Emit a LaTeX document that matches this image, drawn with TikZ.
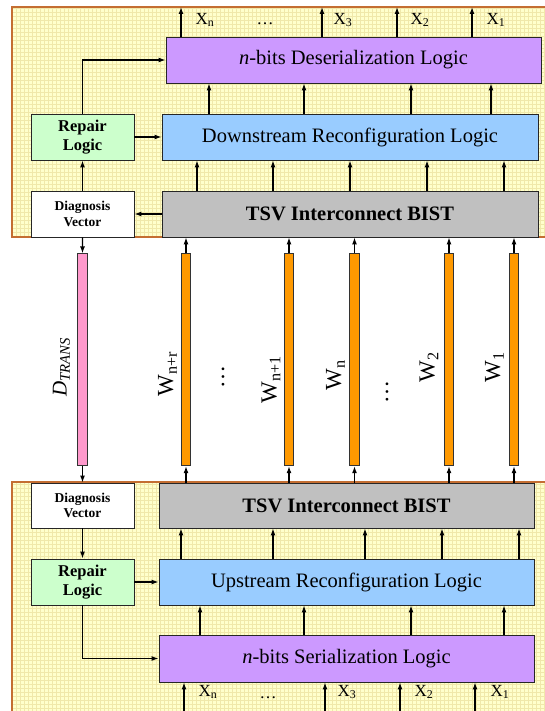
\documentclass[tikz,border=0pt]{standalone}
\usepackage{fontspec}
\setmainfont{Liberation Serif}
\usetikzlibrary{arrows.meta,shapes.geometric}
\definecolor{panelfill}{RGB}{255,255,204}
\definecolor{panelgrid}{RGB}{240,232,170}
\definecolor{panelline}{RGB}{196,110,50}
\definecolor{serfill}{RGB}{204,153,255}
\definecolor{reconfill}{RGB}{153,204,255}
\definecolor{bistfill}{RGB}{192,192,192}
\definecolor{repfill}{RGB}{204,255,204}
\definecolor{tsvfill}{RGB}{255,153,0}
\definecolor{dfill}{RGB}{255,153,204}
\begin{document}
\begin{tikzpicture}[x=1pt,y=-1pt,
  blk/.style={draw=black!85,line width=0.9pt,inner sep=0pt,minimum height=46pt},
  wide/.style={blk,minimum width=376pt,font={\fontsize{20.5}{24}\selectfont}},
  side/.style={blk,minimum width=103pt,align=center,fill=repfill,font={\bfseries\fontsize{16.5}{18.5}\selectfont}},
  diag/.style={blk,minimum width=103pt,align=center,fill=white,font={\bfseries\fontsize{13.5}{15.5}\selectfont}},
  tsv/.style={cylinder,shape border rotate=90,draw=black!80,line width=0.7pt,minimum width=9.5pt,minimum height=212pt,aspect=0.6,inner sep=0pt,fill=tsvfill},
  arr/.style={-{Latex[length=7pt,width=5pt]},line width=1.3pt},
  xlab/.style={font={\fontsize{17}{20}\selectfont}},
  wlab/.style={rotate=90,font={\fontsize{23}{26}\selectfont}}]
\useasboundingbox (0,0) rectangle (545,711);
\fill[panelfill] (12,7) rectangle (546,237);
\draw[panelgrid,step=4pt,line width=0.3pt] (12,7) grid (546,237);
\draw[panelline,line width=1.2pt] (12,7) rectangle (546,237);
\fill[panelfill] (12,482) rectangle (546,714);
\draw[panelgrid,step=4pt,line width=0.3pt] (12,482) grid (546,714);
\draw[panelline,line width=1.2pt] (12,482) rectangle (546,714);

\node[wide,fill=serfill,minimum width=375pt] (deser) at (353.5,60) {\textit{n}-bits Deserialization Logic};
\node[wide,fill=reconfill] (down) at (350,137) {Downstream Reconfiguration Logic};
\node[wide,fill=bistfill,font={\bfseries\fontsize{20.5}{24}\selectfont}] (tbist) at (350,214) {TSV Interconnect BIST};
\node[side] (trep) at (82.5,137) {Repair\\Logic};
\node[diag] (tdiag) at (82.5,214) {Diagnosis\\Vector};

\node[diag,minimum height=45pt] (bdiag) at (82.5,505.5) {Diagnosis\\Vector};
\node[wide,fill=bistfill,minimum width=375pt,minimum height=45pt,font={\bfseries\fontsize{20.5}{24}\selectfont}] (bbist) at (346.5,505.5) {TSV Interconnect BIST};
\node[side] (brep) at (82.5,582) {Repair\\Logic};
\node[wide,fill=reconfill,minimum width=375pt] (up) at (346.5,582) {Upstream Reconfiguration Logic};
\node[wide,fill=serfill,minimum width=375pt,minimum height=47pt] (ser) at (346.5,658.5) {\textit{n}-bits Serialization Logic};

\node[tsv,fill=dfill] (dt) at (82.5,360) {};
\node[tsv] (wnr) at (186,360) {};
\node[tsv] (wn1) at (289,360) {};
\node[tsv] (wn) at (354.5,360) {};
\node[tsv] (w2) at (449,360) {};
\node[tsv] (w1) at (514,360) {};

\node[rotate=90,font={\fontsize{21}{24}\selectfont}] (ldt) at (61.5,367) {\textit{D}\textsubscript{\textit{TRANS}}};
\node[wlab] (lwnr) at (167.5,374) {W\textsubscript{n+r}};
\node[wlab] (ldotsa) at (223,377) {\dots};
\node[wlab] (lwn1) at (271,380) {W\textsubscript{n+1}};
\node[wlab] (lwn) at (335.5,375) {W\textsubscript{n}};
\node[wlab] (ldotsb) at (387,392) {\dots};
\node[wlab] (lw2) at (429,367.5) {W\textsubscript{2}};
\node[wlab] (lw1) at (494.5,367) {W\textsubscript{1}};

\node[xlab] (oxn) at (205,20) {X\textsubscript{n}};
\node[xlab] (odots) at (265,24) {\dots};
\node[xlab] (ox3) at (343,20) {X\textsubscript{3}};
\node[xlab] (ox2) at (420,20) {X\textsubscript{2}};
\node[xlab] (ox1) at (496,20) {X\textsubscript{1}};
\node[xlab] (ixn) at (208,692) {X\textsubscript{n}};
\node[xlab] (idots) at (268,698) {\dots};
\node[xlab] (ix3) at (347,692) {X\textsubscript{3}};
\node[xlab] (ix2) at (424,692) {X\textsubscript{2}};
\node[xlab] (ix1) at (500,692) {X\textsubscript{1}};

\foreach \x [count=\i] in {181,322,397,472} {\coordinate (xo\i) at (\x,7); \draw[arr] (deser.north -| xo\i) -- (xo\i);}
\foreach \x in {209,304,411,491} \draw[arr] (down.north -| \x,0) -- (deser.south -| \x,0);
\foreach \x in {197,273,350,427,504} \draw[arr] (tbist.north -| \x,0) -- (down.south -| \x,0);
\foreach \w in {wnr,wn1,wn,w2,w1} {\draw[arr] (\w.north) -- (\w.north |- tbist.south); \draw[arr] (\w.south |- bbist.north) -- (\w.south);}
\draw[arr] (tdiag.south) -- (dt.north);
\draw[arr] (dt.south) -- (bdiag.north);
\draw[arr] (tdiag.north) -- (trep.south);
\draw[arr] (tbist.west) -- (tdiag.east);
\draw[arr] (trep.east) -- (down.west);
\draw[arr] (trep.north) |- (deser.west);

\draw[arr] (bdiag.south) -- (brep.north);
\draw[arr] (brep.east) -- (up.west);
\draw[arr] (brep.south) |- (ser.west);
\foreach \x in {181,273,365,442,519} \draw[arr] (up.north -| \x,0) -- (bbist.south -| \x,0);
\foreach \x in {200,304,411,504} \draw[arr] (ser.north -| \x,0) -- (up.south -| \x,0);
\foreach \x [count=\i] in {184,325,400,475} {\coordinate (xi\i) at (\x,711); \draw[arr] (xi\i) -- (ser.south -| xi\i);}
\end{tikzpicture}
\end{document}
